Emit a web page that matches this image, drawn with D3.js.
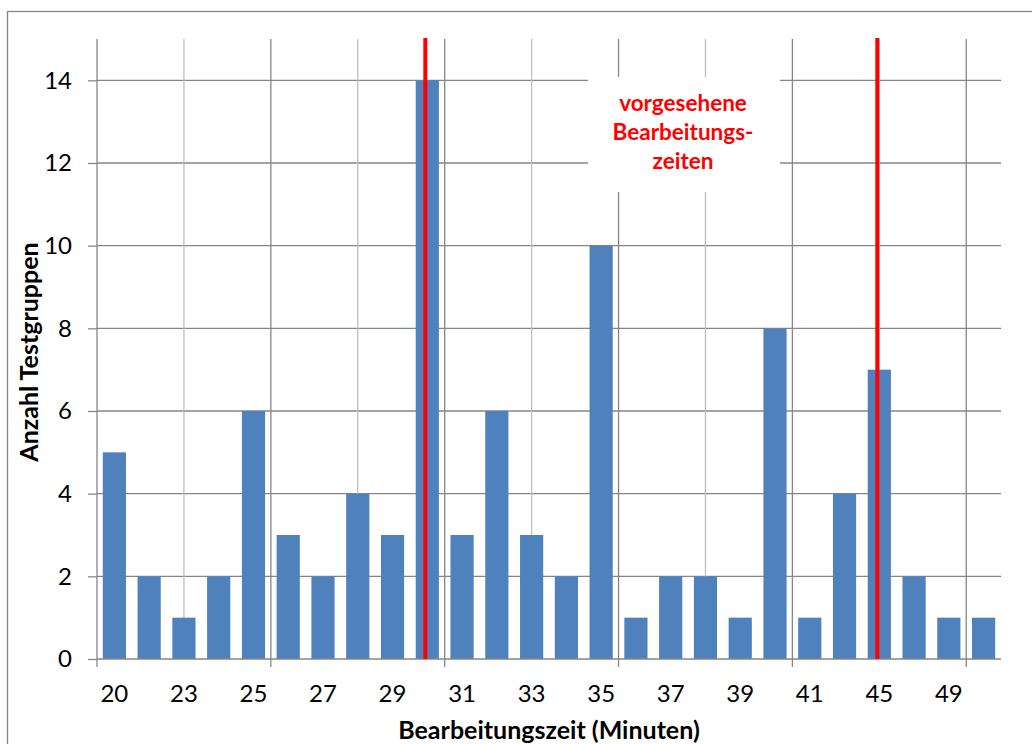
<!DOCTYPE html>
<html>
<head>
<meta charset="utf-8">
<script src="https://cdn.jsdelivr.net/npm/d3@7"></script>
<style>
  html, body { margin: 0; padding: 0; background: #fff; }
  svg { display: block; }
  text { font-family: Lato, "Open Sans", "Liberation Sans", sans-serif; }
</style>
</head>
<body>
<svg id="chart" width="1032" height="744"></svg>
<script>
// ---- data ----
const categories = ["20","22","23","24","25","26","27","28","29","30","31","32","33",
                    "34","35","36","37","38","39","40","41","43","45","47","49","50"];
const counts = [5,2,1,2,6,3,2,4,3,14,3,6,3,2,10,1,2,2,1,8,1,4,7,2,1,1];
const yTicks = [0,2,4,6,8,10,12,14];
const xTickLabels = ["20","23","25","27","29","31","33","35","37","39","41","45","49"];
const plannedTimes = ["30","45"];
const annotationLines = ["vorgesehene","Bearbeitungs-","zeiten"];
const xTitle = "Bearbeitungszeit (Minuten)";
const yTitle = "Anzahl Testgruppen";

// ---- layout ----
const W = 1032, H = 744;
const plot = { left: 97, right: 1001, top: 39, bottom: 659 };
const gridDark = "#868686", gridLight = "#bfbfbf";

const svg = d3.select("#chart");

// outer chart border
svg.append("rect")
  .attr("x", 7.5).attr("y", 11.5).attr("width", 1100).attr("height", 800)
  .attr("fill", "none").attr("stroke", gridDark).attr("stroke-width", 1.3);

const x = d3.scaleBand().domain(categories)
  .range([plot.left, plot.right]).paddingInner(1/3).paddingOuter(1/6);
const slot = d3.scaleLinear().domain([0, categories.length]).range([plot.left, plot.right]);
const y = d3.scaleLinear().domain([0, 15]).range([plot.bottom, plot.top]);

// horizontal gridlines
svg.append("g").selectAll("line").data(yTicks.filter(d => d > 0)).join("line")
  .attr("x1", plot.left).attr("x2", plot.right)
  .attr("y1", d => y(d)).attr("y2", d => y(d))
  .attr("stroke", gridDark).attr("stroke-width", 1.3);

// vertical gridlines: major every 5 categories, minor halfway
const majorIdx = d3.range(5, categories.length + 1, 5);
const minorIdx = d3.range(2.5, categories.length, 5);
svg.append("g").selectAll("line").data(minorIdx).join("line")
  .attr("x1", d => slot(d)).attr("x2", d => slot(d))
  .attr("y1", plot.top).attr("y2", plot.bottom)
  .attr("stroke", gridLight).attr("stroke-width", 1.3);
svg.append("g").selectAll("line").data(majorIdx).join("line")
  .attr("x1", d => slot(d)).attr("x2", d => slot(d))
  .attr("y1", plot.top).attr("y2", plot.bottom)
  .attr("stroke", gridDark).attr("stroke-width", 1.3);

// bars
svg.append("g").selectAll("rect").data(categories).join("rect")
  .attr("x", d => x(d))
  .attr("y", (d, i) => y(counts[i]))
  .attr("width", x.bandwidth())
  .attr("height", (d, i) => y(0) - y(counts[i]))
  .attr("fill", "#4f81bd");

// y axis
const yAxis = svg.append("g").attr("transform", `translate(${plot.left},0)`)
  .call(d3.axisLeft(y).tickValues(yTicks).tickSize(9).tickPadding(16).tickFormat(d3.format("d")));
yAxis.select(".domain").attr("stroke", gridDark).attr("stroke-width", 1.3)
  .attr("d", `M0,${plot.top}V${plot.bottom}`);
yAxis.selectAll(".tick line").attr("stroke", gridDark).attr("stroke-width", 1.3);
yAxis.selectAll(".tick text").attr("font-size", 24).attr("fill", "#000")
  .style("font-family", "Lato, 'Open Sans', sans-serif");

// x axis line and major ticks
svg.append("line")
  .attr("x1", plot.left).attr("x2", plot.right)
  .attr("y1", plot.bottom).attr("y2", plot.bottom)
  .attr("stroke", gridDark).attr("stroke-width", 1.3);
svg.append("g").selectAll("line").data([0, ...majorIdx]).join("line")
  .attr("x1", d => slot(d)).attr("x2", d => slot(d))
  .attr("y1", plot.bottom).attr("y2", plot.bottom + 8)
  .attr("stroke", gridDark).attr("stroke-width", 1.3);

// x tick labels (every other category)
svg.append("g").selectAll("text").data(xTickLabels).join("text")
  .attr("x", d => x(d) + x.bandwidth() / 2)
  .attr("y", 702)
  .attr("text-anchor", "middle")
  .attr("font-size", 24).attr("fill", "#000")
  .text(d => d);

// planned time red lines
svg.append("g").selectAll("line").data(plannedTimes).join("line")
  .attr("x1", d => x(d) + x.bandwidth() / 2 - 2)
  .attr("x2", d => x(d) + x.bandwidth() / 2 - 2)
  .attr("y1", plot.top - 1).attr("y2", plot.bottom)
  .attr("stroke", "#ff0000").attr("stroke-width", 4);

// annotation box
const box = { x: 588, y: 77, w: 192, h: 115 };
svg.append("rect").attr("x", box.x).attr("y", box.y)
  .attr("width", box.w).attr("height", box.h).attr("fill", "#fff");
svg.append("g").selectAll("text").data(annotationLines).join("text")
  .attr("x", box.x + box.w / 2 - 1)
  .attr("y", (d, i) => 111 + i * 29)
  .attr("text-anchor", "middle")
  .attr("font-size", 22.5).attr("font-weight", "bold").attr("fill", "#ff0000")
  .text(d => d);

// axis titles
svg.append("text")
  .attr("x", (plot.left + plot.right) / 2).attr("y", 739)
  .attr("text-anchor", "middle")
  .attr("font-size", 25).attr("font-weight", "bold").attr("fill", "#000")
  .text(xTitle);
svg.append("text")
  .attr("transform", `translate(38,${(plot.top + plot.bottom) / 2 + 3}) rotate(-90)`)
  .attr("text-anchor", "middle")
  .attr("font-size", 25).attr("font-weight", "bold").attr("fill", "#000")
  .text(yTitle);
</script>
</body>
</html>
